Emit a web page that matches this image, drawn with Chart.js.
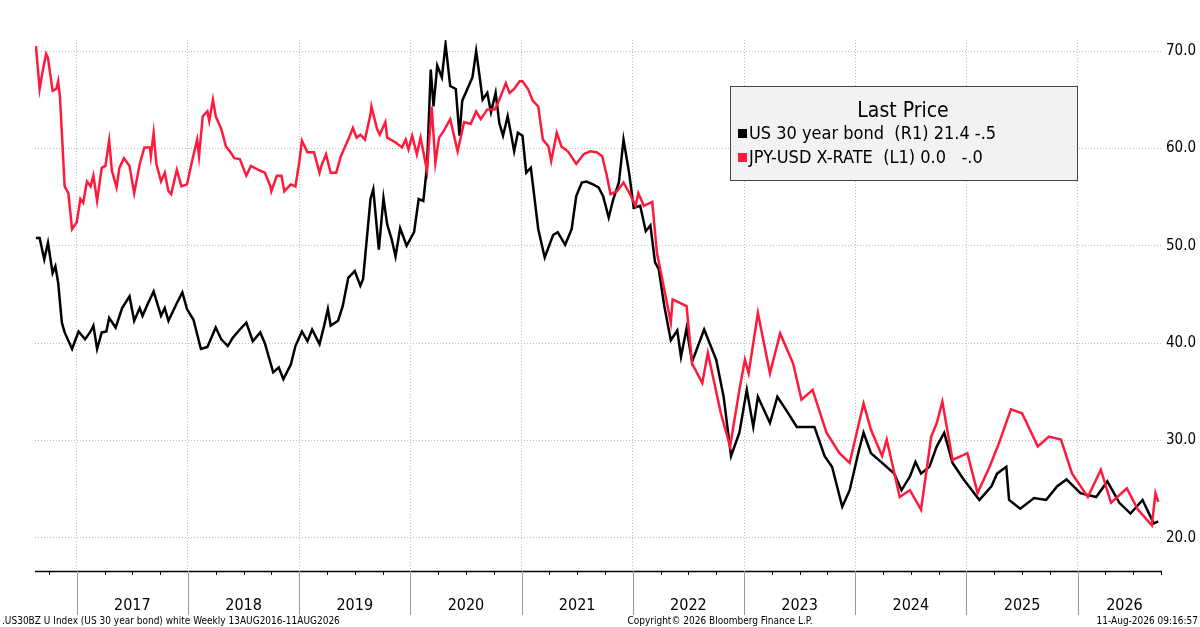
<!DOCTYPE html>
<html>
<head>
<meta charset="utf-8">
<script src="https://cdn.jsdelivr.net/npm/chart.js@4"></script>
<style>
  body { margin: 0; background: #fff; }
  #wrap { width: 1200px; height: 627px; }
</style>
</head>
<body>
<div id="wrap"><canvas id="myChart" width="1200" height="627"></canvas></div>
<script>
'use strict';

// x = months since Aug 2016
let bondMonths = [0.1, 0.5, 1, 1.4, 1.9, 2.2, 2.5, 2.9, 3.2, 4, 4.7, 5.4, 6, 6.3, 6.7, 7.2, 7.7, 8, 8.7, 9.4,
  10.2, 10.7, 11.3, 11.6, 12.2, 12.8, 13.6, 14, 14.4, 15.3, 15.9, 16.4, 17.1, 17.9, 18.6, 19.5, 20.1, 20.8, 21.3, 22.1,
  22.8, 23.5, 24.3, 24.8, 25.7, 26.3, 26.8, 27.6, 28.1, 28.8, 29.4, 29.9, 30.7, 31.2, 31.6, 31.9, 32.7, 33.2, 33.8, 34.5,
  35.1, 35.4, 36.2, 36.5, 37.1, 37.6, 38, 38.5, 38.9, 39.4, 40.1, 40.9, 41.4, 41.9, 42.3, 42.7, 43, 43.4, 43.9, 44.3,
  44.8, 45.4, 45.8, 46.1, 46.7, 47.2, 47.6, 47.9, 48.3, 48.8, 49.2, 49.7, 50.1, 50.5, 51, 51.4, 51.7, 52.1, 52.6, 53,
  53.5, 54.3, 55, 55.9, 56.4, 57.2, 57.9, 58.4, 59, 59.5, 60.2, 60.8, 61.3, 61.9, 62.4, 63, 63.5, 64.1, 64.6, 65.3,
  65.9, 66.4, 66.9, 67.3, 67.9, 68.6, 69.3, 69.7, 70.3, 70.9, 72.2, 73.5, 74.3, 75.1, 76, 76.8, 77.5, 78, 79.3, 80.1,
  81, 82.2, 84.1, 85.2, 86, 87.1, 87.9, 88.9, 89.4, 90.2, 91.4, 92.7, 93.5, 94.4, 95, 95.6, 96.5, 97.3, 98.1, 99,
  100.2, 101.9, 103.2, 103.8, 104.8, 105.1, 106.3, 107.8, 109.1, 110.3, 111.3, 112.8, 114.5, 115.7, 117, 118.2, 119.5, 120.7, 121.2];
let bondValues = [50.8, 50.8, 48.6, 50.3, 47.2, 47.9, 46.2, 42.1, 41.1, 39.4, 41.2, 40.4, 41.2, 41.8, 39.4, 41.1, 41.2, 42.6, 41.6, 43.6,
  44.8, 42.3, 43.6, 42.8, 44.1, 45.3, 42.8, 43.6, 42.3, 44.1, 45.2, 43.5, 42.4, 39.4, 39.6, 41.6, 40.4, 39.7, 40.5, 41.4,
  42.1, 40.2, 41.1, 40, 37, 37.5, 36.3, 37.8, 39.7, 41.2, 40.2, 41.4, 39.9, 41.8, 43.5, 41.8, 42.3, 43.8, 46.7, 47.4,
  45.9, 46.6, 54.8, 55.8, 49.6, 54.9, 52.2, 50.6, 48.9, 51.8, 50, 51.4, 54.8, 54.6, 58.2, 68.1, 64.3, 68.5, 67.3, 70.7,
  66.4, 66.1, 61.3, 64.9, 66.2, 67.3, 70, 67.9, 65, 65.7, 63.7, 65.7, 62.6, 61.3, 63.3, 61.3, 59.7, 61.6, 61.3, 57.5,
  58, 51.7, 48.8, 51.1, 51.4, 50.1, 51.7, 55.1, 56.5, 56.6, 56.3, 56, 55.1, 52.9, 54.8, 56.5, 60.9, 57.5, 53.9, 54.1,
  51.5, 52.1, 48.3, 47.6, 43.8, 40.3, 41.3, 38.6, 41.5, 38.1, 41.4, 38.3, 34.5, 28.4, 30.8, 35.2, 31.4, 34.5, 31.8, 34.5,
  33.2, 31.4, 31.4, 28.4, 27.3, 23.2, 24.9, 29, 30.8, 28.7, 27.7, 26.6, 24.9, 26.3, 27.8, 26.6, 27.3, 29.4, 30.8, 27.7,
  26, 23.9, 25.3, 26.6, 27.3, 23.9, 23, 24.1, 23.9, 25.3, 26, 24.6, 24.2, 25.8, 23.6, 22.5, 23.9, 21.5, 21.7];

let jpyMonths = [0.1, 0.5, 0.8, 1.2, 1.4, 1.9, 2.3, 2.5, 2.7, 3.2, 3.6, 4, 4.5, 4.9, 5.2, 5.6, 6, 6.3, 6.7, 7.2,
  7.6, 8, 8.3, 8.8, 9.1, 9.6, 10.2, 10.7, 11.3, 11.8, 12.4, 12.5, 12.8, 13.1, 13.6, 14, 14.4, 14.7, 15.3, 15.8,
  16.4, 16.9, 17.5, 17.7, 18.1, 18.6, 18.8, 19.2, 19.5, 20.1, 20.6, 21.1, 21.5, 22.1, 22.8, 23.3, 24.1, 24.8, 25.4, 25.5,
  26.1, 26.6, 26.9, 27.6, 28.1, 28.5, 28.8, 29.4, 30.1, 30.7, 30.9, 31.4, 31.9, 32.5, 33, 33.8, 34.3, 34.7, 35.1, 35.6,
  36.2, 36.3, 36.9, 37.2, 37.8, 38, 38.9, 39.6, 40, 40.3, 40.7, 41.2, 41.6, 42.3, 42.8, 43.2, 43.6, 44.1, 44.8, 45.6,
  46.3, 47, 47.6, 48.1, 48.8, 49.6, 50.1, 50.8, 51.2, 51.7, 52.3, 52.6, 53.2, 53.7, 54.3, 54.8, 55.4, 55.7, 56.3, 56.8,
  57.5, 58.4, 59.2, 59.9, 60.6, 61.2, 61.7, 62.1, 62.8, 63.5, 64.2, 64.8, 65.1, 65.7, 66.6, 67.1, 67.9, 68.6, 68.8, 70.3,
  70.9, 72, 72.6, 74, 75, 76, 76.6, 77, 78, 79.3, 80.4, 81.8, 82.7, 83.9, 85.4, 86.8, 87.9, 89.4, 90.2, 91.4,
  91.9, 93.3, 94.4, 95.6, 96.7, 97.3, 97.9, 99, 100.6, 101.7, 103, 104, 105.3, 106.5, 108.2, 109.4, 110.7, 111.9, 113.6, 115,
  116.1, 117.8, 119, 120.5, 120.9, 121.2];
// JPY-USD read in the chart's visual units (plotted on the hidden left axis)
let jpyValues = [70.5, 66.1, 67.8, 69.7, 69.3, 65.9, 66.1, 66.9, 65.2, 56.1, 55.4, 51.7, 52.4, 54.8, 54.4, 56.6, 56.1, 57.2, 54.6, 58,
  58.2, 60.8, 57.7, 56, 58, 59, 58.2, 55.4, 58.4, 60.1, 60.1, 59.2, 61.6, 58.4, 56.6, 57.5, 55.6, 55.3, 57.8, 56.1,
  56.3, 58.5, 60.9, 59.2, 63.3, 63.8, 62.8, 65, 63.3, 62, 60.2, 59.6, 59, 58.9, 57.2, 58.2, 57.8, 57.5, 56.1, 55.6,
  57.2, 57.2, 55.6, 56.3, 56.1, 58.5, 60.8, 59.6, 59.6, 57.5, 58.2, 59.4, 57.5, 57.5, 59.2, 60.9, 62.1, 61.1, 61.4, 60.9,
  63.5, 64.3, 62, 61.4, 62.7, 61.1, 60.6, 60.1, 60.9, 59.9, 61.3, 59.4, 61.1, 57.7, 64.3, 58.5, 61.1, 61.8, 63, 59.7,
  62.7, 62.5, 63.8, 63, 64, 64, 65, 66.7, 65.7, 66.1, 66.9, 66.9, 66.1, 64.9, 64.3, 60.9, 60.2, 58.7, 61.6, 60.2,
  59.7, 58.4, 59.4, 59.7, 59.6, 59.2, 57.2, 55.3, 55.6, 56.5, 55.3, 54.1, 55.4, 54.1, 54.5, 49.3, 45.5, 42.1, 44.5, 43.8,
  37.9, 35.9, 39, 32.8, 29.4, 35.2, 38.3, 36.9, 43.1, 36.9, 41, 37.9, 34.2, 35.2, 30.8, 28.7, 27.7, 33.8, 31.1, 28.4,
  30.1, 24.2, 24.9, 22.9, 30.4, 31.8, 34, 28, 28.7, 24.6, 27.3, 29.7, 33.2, 32.8, 29.4, 30.4, 30.1, 26.6, 24.2, 27,
  23.6, 25.1, 22.9, 21.3, 24.6, 23.7];

let yearLabels = ['2017', '2018', '2019', '2020', '2021', '2022', '2023', '2024', '2025', '2026'];
let rightTicks = [20, 30, 40, 50, 60, 70];

// month index where each year starts (Jan of year)
let yearStarts = yearLabels.map((y, i) => 4.5 + i * 12);
let xMax = 121.6;

let bondPoints = bondMonths.map((m, i) => ({ x: m, y: bondValues[i] }));
let jpyPoints = jpyMonths.map((m, i) => ({ x: m, y: jpyValues[i] }));

const FONT = '"DejaVu Sans Condensed", "Liberation Sans"';

let decorPlugin = {
  id: 'decor',
  afterDraw(chart) {
    let ctx = chart.ctx;
    let xs = chart.scales.x;
    let area = chart.chartArea;
    ctx.save();
    // axis line
    ctx.strokeStyle = '#000';
    ctx.lineWidth = 1.5;
    ctx.beginPath();
    ctx.moveTo(area.left, area.bottom + 0.5);
    ctx.lineTo(area.right, area.bottom + 0.5);
    ctx.stroke();
    // minor ticks every 3 months
    ctx.lineWidth = 1;
    for (let m = 1.5; m < xMax; m += 3) {
      let px = Math.round(xs.getPixelForValue(m)) + 0.5;
      ctx.beginPath();
      ctx.moveTo(px, area.bottom);
      ctx.lineTo(px, area.bottom + 4);
      ctx.stroke();
    }
    // year separators and labels
    ctx.strokeStyle = '#999';
    ctx.fillStyle = '#000';
    ctx.font = '16px ' + FONT;
    ctx.textAlign = 'center';
    for (let i = 0; i < yearStarts.length; i++) {
      let px = Math.round(xs.getPixelForValue(yearStarts[i])) + 0.5;
      ctx.beginPath();
      ctx.moveTo(px, area.bottom);
      ctx.lineTo(px, 615);
      ctx.stroke();
      let next = i + 1 < yearStarts.length ? yearStarts[i + 1] : xMax + 1;
      let mid = xs.getPixelForValue((yearStarts[i] + next) / 2);
      ctx.fillText(yearLabels[i], mid, 610);
    }
    // footer texts
    ctx.font = '10px ' + FONT;
    ctx.textAlign = 'left';
    ctx.fillText('.US30BZ U Index (US 30 year bond) white Weekly 13AUG2016-11AUG2026', 2, 624);
    ctx.textAlign = 'center';
    ctx.fillText('Copyright\u00A9 2026 Bloomberg Finance L.P.', 720, 624);
    ctx.textAlign = 'right';
    ctx.fillText('11-Aug-2026 09:16:57', 1198, 624);
    // legend box
    ctx.fillStyle = '#f2f2f2';
    ctx.strokeStyle = '#444';
    ctx.fillRect(730.5, 86.5, 347, 94);
    ctx.strokeRect(730.5, 86.5, 347, 94);
    ctx.fillStyle = '#000';
    ctx.font = '21px ' + FONT;
    ctx.textAlign = 'center';
    ctx.fillText('Last Price', 903, 117);
    ctx.font = '18px ' + FONT;
    ctx.textAlign = 'left';
    ctx.fillRect(738, 129, 9, 9);
    ctx.fillText('US 30 year bond  (R1) 21.4 -.5', 749, 139);
    ctx.fillStyle = '#ff1a3c';
    ctx.fillRect(738, 153, 9, 9);
    ctx.fillStyle = '#000';
    ctx.fillText('JPY-USD X-RATE  (L1) 0.0   -.0', 749, 163);
    ctx.restore();
  }
};

let ctx = document.getElementById('myChart').getContext('2d');
let myChart = new Chart(ctx, {
  type: 'line',
  data: {
    datasets: [{
      label: 'JPY-USD X-RATE',
      data: jpyPoints,
      borderColor: '#ff1a3c',
      borderWidth: 2.5,
      pointRadius: 0,
      tension: 0,
      yAxisID: 'y1'
    },
    {
      label: 'US 30 year bond',
      data: bondPoints,
      borderColor: '#000',
      borderWidth: 2.5,
      pointRadius: 0,
      tension: 0,
      yAxisID: 'y'
    }]
  },
  options: {
    responsive: false,
    animation: false,
    layout: { padding: { left: 35, top: 40, right: 0, bottom: 0 } },
    plugins: { legend: { display: false }, tooltip: { enabled: false } },
    scales: {
      x: {
        type: 'linear',
        min: 0,
        max: xMax,
        afterBuildTicks(axis) { axis.ticks = yearStarts.map(v => ({ value: v })); },
        afterFit(axis) { axis.height = 56; },
        ticks: { display: false },
        grid: { color: '#bbb', lineWidth: 1, drawTicks: false },
        border: { display: false, dash: [1, 2] }
      },
      y: {
        position: 'right',
        min: 16.6,
        max: 71.13,
        afterBuildTicks(axis) { axis.ticks = rightTicks.map(v => ({ value: v })); },
        afterFit(axis) { axis.width = 38; },
        ticks: {
          color: '#000',
          font: { size: 15, family: FONT },
          padding: 4,
          callback: v => v.toFixed(1)
        },
        grid: { color: '#bbb', lineWidth: 1, drawTicks: false },
        border: { display: false, dash: [1, 2] }
      },
      y1: {
        position: 'left',
        display: false,
        min: 16.6,
        max: 71.13
      }
    }
  },
  plugins: [decorPlugin]
});
</script>
</body>
</html>
